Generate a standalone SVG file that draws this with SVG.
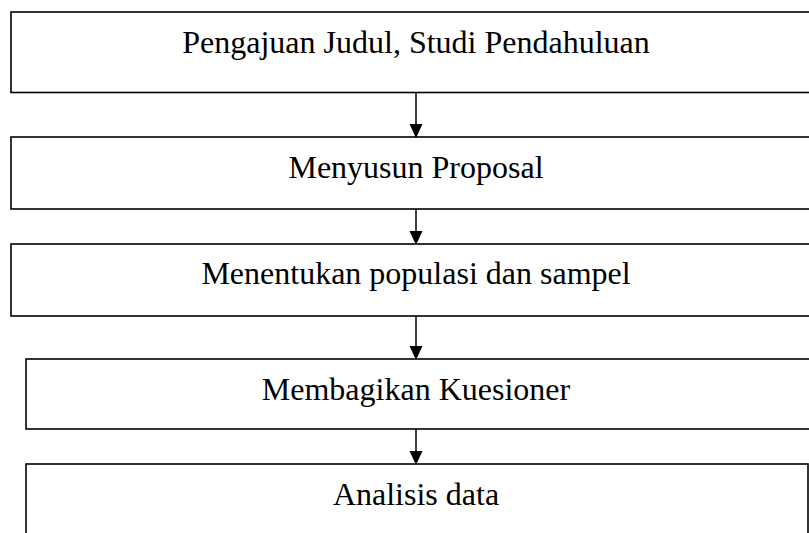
<svg xmlns="http://www.w3.org/2000/svg" width="809" height="533" viewBox="0 0 809 533">
<defs>
<style>
.box{fill:#fff;stroke:#000;stroke-width:1.6}
.lbl{font-family:"Liberation Serif","Times New Roman",serif;font-size:32px;fill:#000;text-anchor:middle}
.conn{stroke:#000;stroke-width:1.5;fill:none}
</style>
<marker id="ah" markerUnits="userSpaceOnUse" markerWidth="14" markerHeight="15" refX="14" refY="7" orient="auto" viewBox="0 0 15 14">
<path d="M0,0 L15,7 L0,14 Z" fill="#000"/>
</marker>
</defs>
<rect width="809" height="533" fill="#fff"/>
<g id="n1"><rect class="box" x="11" y="12" width="820" height="80.5"/><text class="lbl" x="416" y="53">Pengajuan Judul, Studi Pendahuluan</text></g>
<g id="n2"><rect class="box" x="11" y="137" width="820" height="72"/><text class="lbl" x="416" y="178">Menyusun Proposal</text></g>
<g id="n3"><rect class="box" x="11" y="244" width="820" height="72"/><text class="lbl" x="416" y="284">Menentukan populasi dan sampel</text></g>
<g id="n4"><rect class="box" x="26" y="359" width="810" height="70"/><text class="lbl" x="416" y="400">Membagikan Kuesioner</text></g>
<g id="n5"><rect class="box" x="26" y="464" width="782" height="90"/><text class="lbl" x="416" y="505">Analisis data</text></g>
<g id="connectors">
<line class="conn" x1="416" y1="92.5" x2="416" y2="137" marker-end="url(#ah)"/>
<line class="conn" x1="416" y1="209" x2="416" y2="244" marker-end="url(#ah)"/>
<line class="conn" x1="416" y1="316" x2="416" y2="359" marker-end="url(#ah)"/>
<line class="conn" x1="416" y1="429" x2="416" y2="464" marker-end="url(#ah)"/>
</g>
</svg>
